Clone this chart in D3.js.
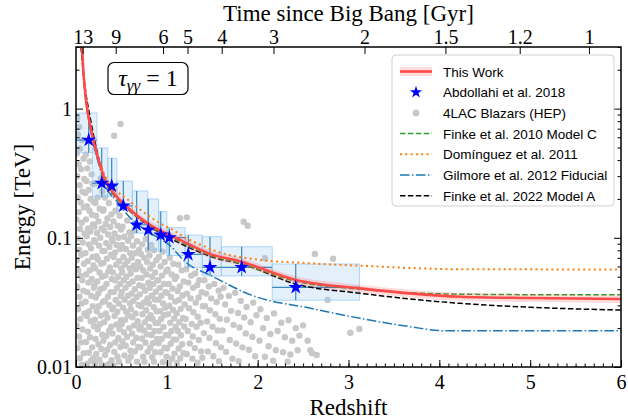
<!DOCTYPE html>
<html>
<head>
<meta charset="utf-8">
<script src="https://cdn.jsdelivr.net/npm/d3@7"></script>
<style>
  body { margin: 0; background: #fff; }
  #chart text { font-family: "Liberation Serif", "DejaVu Serif", serif; fill: #000; }
  #chart .legend text { font-family: "Liberation Sans", "DejaVu Sans", sans-serif; }
</style>
</head>
<body>
<svg id="chart" width="628" height="419"></svg>
<script>
// ---- axes ----
const redshiftTicks = [0, 1, 2, 3, 4, 5, 6];
const redshiftMinor = d3.range(0, 6.01, 0.1);
const energyTicks = [0.01, 0.1, 1];
const energyMinor = [0.02, 0.03, 0.04, 0.05, 0.06, 0.07, 0.08, 0.09,
                     0.2, 0.3, 0.4, 0.5, 0.6, 0.7, 0.8, 0.9, 2, 3];
const ageLabels = [13, 9, 6, 5, 4, 3, 2, 1.5, 1.2, 1];
const ageRedshifts = [0.073, 0.437, 0.958, 1.228, 1.604, 2.174, 3.176, 4.067, 4.885, 5.647];

// ---- tau = 1 horizons [z, E TeV] ----
const thisWorkZ  = [0.066, 0.08, 0.11, 0.15, 0.19, 0.25, 0.32, 0.45, 0.6, 0.85, 1.0, 1.15, 1.48, 1.82, 2.42, 3.13, 4.23, 5.0, 6.0];
const thisWorkE  = [3.0, 1.993, 1.17, 0.782, 0.574, 0.398, 0.281, 0.208, 0.164, 0.1215, 0.1078, 0.096, 0.0748, 0.0653, 0.0472, 0.0406, 0.035, 0.0342, 0.0336];
const thisWorkLo = [2.79, 1.853, 1.088, 0.727, 0.534, 0.370, 0.261, 0.193, 0.1525, 0.113, 0.1003, 0.0893, 0.0696, 0.0607, 0.0439, 0.0378, 0.0326, 0.0318, 0.0312];
const thisWorkHi = [3.21, 2.133, 1.252, 0.837, 0.614, 0.426, 0.301, 0.223, 0.1755, 0.130, 0.1153, 0.1027, 0.080, 0.0699, 0.0505, 0.0434, 0.0375, 0.0366, 0.036];

const finke2010 = [[0.066, 3.0], [0.08, 1.993], [0.11, 1.144], [0.15, 0.774], [0.19, 0.565], [0.25, 0.39], [0.32, 0.274],
  [0.45, 0.203], [0.6, 0.16], [0.85, 0.119], [1.15, 0.0932], [1.48, 0.073], [1.82, 0.0628], [2.42, 0.0461],
  [3.13, 0.040], [4.23, 0.0366], [5.0, 0.0363], [6.0, 0.0362]];
const dominguez2011 = [[0.066, 3.0], [0.08, 2.036], [0.11, 1.195], [0.15, 0.80], [0.19, 0.591], [0.25, 0.416], [0.32, 0.301],
  [0.45, 0.2297], [0.576, 0.1962], [0.686, 0.1692], [0.815, 0.1457], [0.925, 0.1295], [1.071, 0.1149], [1.19, 0.1015],
  [1.4, 0.0868], [1.57, 0.0776], [1.93, 0.0688], [2.576, 0.0635], [3.2, 0.0605], [4.228, 0.0571], [5.0, 0.057], [6.0, 0.0568]];
const gilmore2012 = [[0.066, 3.0], [0.08, 1.951], [0.11, 1.127], [0.15, 0.748], [0.19, 0.539], [0.25, 0.372], [0.32, 0.2565],
  [0.45, 0.192], [0.6, 0.142], [0.8, 0.111], [0.93, 0.098], [1.02, 0.089], [1.2, 0.0655], [1.51, 0.050], [1.93, 0.036],
  [2.58, 0.0285], [3.13, 0.0238], [3.68, 0.0205], [4.04, 0.0191], [6.0, 0.0191]];
const finke2022 = [[0.055, 3.0], [0.075, 2.078], [0.099, 1.477], [0.154, 0.866], [0.2, 0.591], [0.3, 0.301], [0.45, 0.203],
  [0.6, 0.16], [0.85, 0.118], [1.145, 0.0906], [1.5, 0.0711], [1.85, 0.0619], [2.42, 0.0439], [3.13, 0.0372],
  [4.23, 0.0311], [5.0, 0.029], [6.0, 0.0276]];

// ---- Abdollahi et al. 2018 ----
const abdollahiZ   = [0.14, 0.283, 0.393, 0.521, 0.668, 0.796, 0.933, 1.027, 1.236, 1.475, 1.824, 2.419];
const abdollahiE   = [0.571, 0.2645, 0.252, 0.1768, 0.1261, 0.1152, 0.1051, 0.1005, 0.0745, 0.0591, 0.0591, 0.0414];
const abdollahiZLo = [0.0, 0.18, 0.35, 0.45, 0.62, 0.79, 0.91, 1.0, 1.2, 1.39, 1.6, 2.16];
const abdollahiZHi = [0.23, 0.35, 0.45, 0.62, 0.79, 0.91, 1.0, 1.2, 1.39, 1.6, 2.16, 3.12];
const abdollahiELo = [0.4555, 0.2069, 0.2083, 0.1641, 0.1088, 0.0804, 0.0776, 0.073, 0.0591, 0.0507, 0.0507, 0.0329];
const abdollahiEHi = [0.925, 0.496, 0.4125, 0.2752, 0.2306, 0.1997, 0.1596, 0.1197, 0.1051, 0.102, 0.0853, 0.0627];

// ---- 4LAC blazars, highest-energy photon [z, E TeV] ----
const blazars = [
  [0.012, 0.84], [0.035, 0.72], [0.021, 0.63], [0.066, 0.57], [0.044, 0.49], [0.008, 0.45], [0.083, 0.41], [0.029, 0.37],
  [0.057, 0.34], [0.014, 0.3], [0.091, 0.285], [0.04, 0.255], [0.07, 0.228], [0.019, 0.205], [0.052, 0.188], [0.086, 0.172],
  [0.031, 0.158], [0.006, 0.139], [0.062, 0.131], [0.045, 0.117], [0.095, 0.108], [0.017, 0.099], [0.074, 0.092], [0.036, 0.081],
  [0.058, 0.074], [0.009, 0.067], [0.088, 0.063], [0.025, 0.056], [0.049, 0.051], [0.068, 0.047], [0.013, 0.042], [0.081, 0.039],
  [0.039, 0.035], [0.06, 0.031], [0.022, 0.028], [0.094, 0.026], [0.047, 0.0235], [0.007, 0.021], [0.071, 0.0195], [0.033, 0.0172],
  [0.056, 0.0155], [0.016, 0.014], [0.085, 0.0128], [0.042, 0.0117], [0.064, 0.0104],
  [0.108, 0.44], [0.152, 0.39], [0.126, 0.345], [0.171, 0.31], [0.114, 0.275], [0.183, 0.262], [0.139, 0.235], [0.102, 0.222],
  [0.161, 0.2], [0.194, 0.19], [0.121, 0.176], [0.147, 0.162], [0.176, 0.151], [0.109, 0.139], [0.188, 0.127], [0.133, 0.118],
  [0.157, 0.112], [0.117, 0.103], [0.199, 0.096], [0.142, 0.089], [0.165, 0.083], [0.104, 0.076], [0.181, 0.071], [0.129, 0.066],
  [0.192, 0.061], [0.151, 0.056], [0.112, 0.052], [0.173, 0.048], [0.137, 0.045], [0.196, 0.041], [0.123, 0.038], [0.168, 0.0355],
  [0.106, 0.032], [0.185, 0.0295], [0.145, 0.027], [0.119, 0.0248], [0.162, 0.0226], [0.198, 0.0207], [0.131, 0.0188], [0.154, 0.017],
  [0.111, 0.0156], [0.178, 0.0142], [0.141, 0.0129], [0.189, 0.0117], [0.125, 0.0106], [0.167, 0.0112],
  [0.273, 0.29], [0.205, 0.262], [0.291, 0.228], [0.238, 0.205], [0.214, 0.186], [0.262, 0.168], [0.297, 0.162], [0.221, 0.148],
  [0.248, 0.134], [0.203, 0.122], [0.283, 0.118], [0.231, 0.109], [0.267, 0.1], [0.209, 0.093], [0.254, 0.087], [0.292, 0.079],
  [0.226, 0.072], [0.241, 0.068], [0.277, 0.063], [0.212, 0.058], [0.259, 0.054], [0.286, 0.05], [0.234, 0.046], [0.202, 0.043],
  [0.269, 0.04], [0.245, 0.037], [0.218, 0.0345], [0.295, 0.0318], [0.251, 0.0295], [0.228, 0.027], [0.274, 0.025], [0.207, 0.0232],
  [0.263, 0.0214], [0.239, 0.0196], [0.289, 0.0178], [0.216, 0.0165], [0.247, 0.015], [0.279, 0.0138], [0.223, 0.0126], [0.256, 0.0114],
  [0.284, 0.0104], [0.211, 0.0106],
  [0.318, 0.205], [0.362, 0.186], [0.304, 0.166], [0.391, 0.152], [0.346, 0.141], [0.327, 0.128], [0.378, 0.121], [0.309, 0.114],
  [0.355, 0.106], [0.397, 0.098], [0.332, 0.091], [0.368, 0.085], [0.314, 0.079], [0.385, 0.074], [0.341, 0.069], [0.302, 0.064],
  [0.373, 0.059], [0.357, 0.055], [0.323, 0.051], [0.394, 0.048], [0.336, 0.044], [0.306, 0.041], [0.381, 0.038], [0.352, 0.035],
  [0.317, 0.0325], [0.366, 0.0302], [0.399, 0.028], [0.329, 0.026], [0.348, 0.0241], [0.311, 0.0222], [0.387, 0.0205], [0.363, 0.019],
  [0.334, 0.0174], [0.301, 0.016], [0.375, 0.0148], [0.344, 0.0136], [0.319, 0.0124], [0.392, 0.0113], [0.358, 0.0105], [0.325, 0.0102],
  [0.42, 0.617], [0.49, 0.76],
  [0.437, 0.162], [0.481, 0.148], [0.412, 0.134], [0.459, 0.124], [0.496, 0.116], [0.424, 0.108], [0.468, 0.1], [0.403, 0.094],
  [0.449, 0.088], [0.487, 0.082], [0.431, 0.077], [0.415, 0.071], [0.474, 0.066], [0.442, 0.062], [0.499, 0.058], [0.406, 0.054],
  [0.463, 0.05], [0.428, 0.047], [0.484, 0.044], [0.451, 0.041], [0.418, 0.038], [0.492, 0.0355], [0.436, 0.033], [0.471, 0.031],
  [0.409, 0.0288], [0.455, 0.0268], [0.426, 0.0248], [0.494, 0.023], [0.444, 0.0213], [0.478, 0.0197], [0.402, 0.0182], [0.466, 0.0168],
  [0.433, 0.0155], [0.489, 0.0143], [0.421, 0.0131], [0.457, 0.012], [0.474, 0.011], [0.411, 0.0103],
  [0.562, 0.136], [0.513, 0.122], [0.588, 0.11], [0.531, 0.102], [0.574, 0.095], [0.506, 0.088], [0.549, 0.082], [0.597, 0.076],
  [0.522, 0.071], [0.566, 0.066], [0.538, 0.062], [0.591, 0.058], [0.509, 0.054], [0.557, 0.05], [0.526, 0.047], [0.583, 0.044],
  [0.545, 0.041], [0.502, 0.038], [0.571, 0.0356], [0.535, 0.0332], [0.594, 0.031], [0.518, 0.0288], [0.553, 0.0268], [0.579, 0.025],
  [0.541, 0.0232], [0.504, 0.0215], [0.586, 0.02], [0.528, 0.0185], [0.563, 0.0171], [0.511, 0.0158], [0.548, 0.0146], [0.599, 0.0134],
  [0.533, 0.0123], [0.576, 0.0112],
  [0.643, 0.114], [0.608, 0.103], [0.671, 0.094], [0.627, 0.087], [0.694, 0.081], [0.652, 0.076], [0.615, 0.07], [0.683, 0.065],
  [0.636, 0.061], [0.661, 0.057], [0.602, 0.053], [0.677, 0.049], [0.624, 0.046], [0.697, 0.043], [0.648, 0.04], [0.612, 0.037],
  [0.668, 0.0348], [0.633, 0.0325], [0.689, 0.0302], [0.605, 0.028], [0.656, 0.026], [0.621, 0.0243], [0.679, 0.0226], [0.641, 0.021],
  [0.699, 0.0196], [0.618, 0.0182], [0.664, 0.0168], [0.629, 0.0155], [0.686, 0.0143], [0.647, 0.0132], [0.603, 0.012], [0.672, 0.011],
  [0.768, 0.098], [0.729, 0.089], [0.791, 0.081], [0.714, 0.075], [0.752, 0.07], [0.783, 0.065], [0.706, 0.06], [0.741, 0.056],
  [0.776, 0.052], [0.722, 0.049], [0.797, 0.045], [0.735, 0.042], [0.761, 0.039], [0.703, 0.0365], [0.787, 0.034], [0.748, 0.0316],
  [0.718, 0.0295], [0.773, 0.0275], [0.731, 0.0256], [0.794, 0.0238], [0.757, 0.0222], [0.711, 0.0206], [0.744, 0.0192], [0.779, 0.0179],
  [0.726, 0.0166], [0.765, 0.0154], [0.708, 0.0142], [0.789, 0.0131], [0.738, 0.012], [0.754, 0.011],
  [0.827, 0.088], [0.861, 0.08], [0.808, 0.073], [0.884, 0.067], [0.845, 0.062], [0.816, 0.058], [0.872, 0.054], [0.838, 0.05],
  [0.896, 0.047], [0.851, 0.044], [0.812, 0.041], [0.879, 0.0382], [0.834, 0.0356], [0.867, 0.0333], [0.803, 0.031], [0.856, 0.029],
  [0.889, 0.027], [0.821, 0.0252], [0.843, 0.0235], [0.876, 0.0219], [0.806, 0.0204], [0.864, 0.019], [0.831, 0.0177], [0.893, 0.0165],
  [0.848, 0.0153], [0.818, 0.0141], [0.871, 0.013], [0.839, 0.0119], [0.858, 0.011],
  [0.952, 0.078], [0.913, 0.071], [0.976, 0.065], [0.931, 0.06], [0.994, 0.055], [0.947, 0.051], [0.905, 0.047], [0.968, 0.044],
  [0.923, 0.041], [0.986, 0.038], [0.941, 0.0356], [0.907, 0.0332], [0.959, 0.031], [0.984, 0.0289], [0.927, 0.027], [0.971, 0.0252],
  [0.936, 0.0235], [0.902, 0.0219], [0.963, 0.0204], [0.919, 0.019], [0.989, 0.0177], [0.944, 0.0165], [0.911, 0.0153], [0.974, 0.0141],
  [0.932, 0.013], [0.997, 0.012], [0.955, 0.0109],
  [1.032, 0.07], [1.071, 0.063], [1.008, 0.057], [1.054, 0.052], [1.089, 0.048], [1.021, 0.044], [1.062, 0.0405], [1.004, 0.0375],
  [1.045, 0.0348], [1.093, 0.0322], [1.027, 0.0298], [1.068, 0.0276], [1.013, 0.0256], [1.081, 0.0238], [1.037, 0.022], [1.097, 0.0204],
  [1.051, 0.019], [1.016, 0.0176], [1.074, 0.0163], [1.041, 0.0151], [1.002, 0.0139], [1.085, 0.0127], [1.058, 0.0116], [1.026, 0.0107],
  [1.127, 0.062], [1.164, 0.056], [1.105, 0.05], [1.186, 0.046], [1.142, 0.042], [1.118, 0.0388], [1.173, 0.0358], [1.134, 0.033],
  [1.196, 0.0305], [1.152, 0.0282], [1.109, 0.026], [1.178, 0.024], [1.138, 0.0222], [1.191, 0.0206], [1.121, 0.019], [1.157, 0.0176],
  [1.102, 0.0163], [1.169, 0.015], [1.131, 0.0139], [1.184, 0.0128], [1.147, 0.0117], [1.113, 0.0107],
  [1.145, 0.1416], [1.22, 0.144], [1.846, 0.1332], [1.89, 0.124],
  [1.213, 0.057], [1.268, 0.051], [1.312, 0.053], [1.357, 0.047], [1.236, 0.045], [1.289, 0.041], [1.334, 0.043], [1.384, 0.038],
  [1.222, 0.037], [1.261, 0.034], [1.318, 0.0315], [1.351, 0.0345], [1.396, 0.0295], [1.244, 0.0285], [1.293, 0.0265], [1.341, 0.0245],
  [1.207, 0.0235], [1.274, 0.0215], [1.327, 0.0205], [1.372, 0.022], [1.231, 0.019], [1.286, 0.0172], [1.353, 0.0162], [1.252, 0.0152],
  [1.309, 0.014], [1.378, 0.0132], [1.219, 0.0126], [1.281, 0.0116], [1.338, 0.0108], [1.391, 0.0118],
  [1.414, 0.047], [1.463, 0.042], [1.522, 0.044], [1.571, 0.039], [1.432, 0.037], [1.488, 0.034], [1.548, 0.0318], [1.592, 0.035],
  [1.421, 0.0296], [1.474, 0.0275], [1.534, 0.0256], [1.583, 0.0236], [1.443, 0.0225], [1.504, 0.0205], [1.561, 0.0192], [1.408, 0.0183],
  [1.469, 0.0168], [1.541, 0.0153], [1.596, 0.0142], [1.452, 0.0132], [1.512, 0.0121], [1.574, 0.0111],
  [1.624, 0.041], [1.683, 0.0355], [1.752, 0.0375], [1.814, 0.0325], [1.878, 0.0292], [1.951, 0.0315], [1.642, 0.0305], [1.707, 0.0272],
  [1.784, 0.0262], [1.852, 0.0242], [1.923, 0.0222], [1.987, 0.0252], [1.661, 0.0232], [1.734, 0.0212], [1.801, 0.0202], [1.869, 0.0182],
  [1.942, 0.0171], [1.613, 0.0192], [1.693, 0.0162], [1.763, 0.0152], [1.832, 0.0142], [1.904, 0.0136], [1.972, 0.0121], [1.652, 0.0131],
  [1.722, 0.0116], [1.791, 0.0111],
  [2.03, 0.028], [2.1, 0.024], [2.18, 0.026], [2.26, 0.022], [2.34, 0.023], [2.42, 0.02], [2.5, 0.021], [2.06, 0.02],
  [2.14, 0.018], [2.22, 0.019], [2.3, 0.017], [2.38, 0.016], [2.46, 0.0175], [2.55, 0.016], [2.02, 0.016], [2.12, 0.0145],
  [2.2, 0.0135], [2.28, 0.013], [2.36, 0.0125], [2.44, 0.0135], [2.58, 0.0135], [2.08, 0.012], [2.17, 0.0112], [2.33, 0.011],
  [2.08, 0.0694], [2.63, 0.0749], [2.83, 0.0689], [2.77, 0.033], [3.02, 0.0184], [3.12, 0.0197], [2.6, 0.0128], [2.65, 0.0124]
];

const legendItems = [
  { label: "This Work", kind: "band" },
  { label: "Abdollahi et al. 2018", kind: "star" },
  { label: "4LAC Blazars (HEP)", kind: "dot" },
  { label: "Finke et al. 2010 Model C", kind: "line", color: "#2ca02c", dash: "5.5,2.4", width: 1.5 },
  { label: "Domínguez et al. 2011", kind: "line", color: "#ff7f0e", dash: "2,3.3", width: 2 },
  { label: "Gilmore et al. 2012 Fiducial", kind: "line", color: "#1f77b4", dash: "9.6,2.4,1.5,2.4", width: 1.5 },
  { label: "Finke et al. 2022 Model A", kind: "line", color: "#000", dash: "5.5,2.4", width: 1.5 }
];

const Chart = {
  width: 628,
  height: 419,
  margin: { top: 47, right: 7, bottom: 52, left: 76 },
  svg: null,
  plot: null,
  x: null,
  y: null,

  init() {
    this.svg = d3.select("#chart");
    const m = this.margin;
    this.x = d3.scaleLinear().domain([0, 6]).range([m.left, this.width - m.right]);
    this.y = d3.scaleLog().domain([0.01, 3]).range([this.height - m.bottom, m.top]);

    this.svg.append("clipPath").attr("id", "clip")
      .append("rect")
      .attr("x", m.left).attr("y", m.top)
      .attr("width", this.width - m.left - m.right)
      .attr("height", this.height - m.top - m.bottom);
    this.plot = this.svg.append("g").attr("clip-path", "url(#clip)");

    this.drawBlazars();
    this.drawBoxes();
    this.drawErrorBars();
    this.drawModels();
    this.drawThisWork();
    this.drawStars();
    this.drawAxes();
    this.drawAnnotation();
    this.drawLegend();
  },

  drawBlazars() {
    this.plot.append("g")
      .selectAll("circle")
      .data(blazars)
      .enter()
      .append("circle")
      .attr("cx", d => this.x(d[0]))
      .attr("cy", d => this.y(d[1]))
      .attr("r", 3.2)
      .attr("fill", "#c8c8c8");
  },

  drawBoxes() {
    this.plot.append("g")
      .selectAll("rect")
      .data(abdollahiZ.map((z, i) => i))
      .enter()
      .append("rect")
      .attr("x", i => this.x(abdollahiZLo[i]))
      .attr("y", i => this.y(abdollahiEHi[i]))
      .attr("width", i => this.x(abdollahiZHi[i]) - this.x(abdollahiZLo[i]))
      .attr("height", i => this.y(abdollahiELo[i]) - this.y(abdollahiEHi[i]))
      .attr("fill", "rgba(150,200,245,0.27)")
      .attr("stroke", "rgba(150,200,245,0.75)")
      .attr("stroke-width", 1);
  },

  drawErrorBars() {
    const g = this.plot.append("g").attr("stroke", "#3a86c0").attr("stroke-width", 1.2);
    abdollahiZ.forEach((z, i) => {
      g.append("line")
        .attr("x1", this.x(z)).attr("x2", this.x(z))
        .attr("y1", this.y(abdollahiELo[i])).attr("y2", this.y(abdollahiEHi[i]));
      g.append("line")
        .attr("x1", this.x(abdollahiZLo[i])).attr("x2", this.x(abdollahiZHi[i]))
        .attr("y1", this.y(abdollahiE[i])).attr("y2", this.y(abdollahiE[i]));
    });
  },

  drawModels() {
    const line = d3.line()
      .x(d => this.x(d[0]))
      .y(d => this.y(d[1]))
      .curve(d3.curveMonotoneX);
    const models = [
      { data: gilmore2012, style: legendItems[5] },
      { data: dominguez2011, style: legendItems[4] },
      { data: finke2022, style: legendItems[6] },
      { data: finke2010, style: legendItems[3] }
    ];
    models.forEach(m => {
      this.plot.append("path")
        .attr("d", line(m.data))
        .attr("fill", "none")
        .attr("stroke", m.style.color)
        .attr("stroke-width", m.style.width)
        .attr("stroke-dasharray", m.style.dash);
    });
  },

  drawThisWork() {
    const idx = thisWorkZ.map((z, i) => i);
    const area = d3.area()
      .x(i => this.x(thisWorkZ[i]))
      .y0(i => this.y(thisWorkLo[i]))
      .y1(i => this.y(thisWorkHi[i]))
      .curve(d3.curveMonotoneX);
    const line = d3.line()
      .x(i => this.x(thisWorkZ[i]))
      .y(i => this.y(thisWorkE[i]))
      .curve(d3.curveMonotoneX);
    this.plot.append("path").attr("d", area(idx))
      .attr("fill", "rgba(255,80,80,0.2)");
    this.plot.append("path").attr("d", line(idx))
      .attr("fill", "none")
      .attr("stroke", "#ff4a4a")
      .attr("stroke-width", 2.6);
  },

  drawStars() {
    const star = d3.symbol().type(d3.symbolStar).size(68);
    this.plot.append("g")
      .selectAll("path")
      .data(abdollahiZ.map((z, i) => i))
      .enter()
      .append("path")
      .attr("d", star)
      .attr("transform", i => `translate(${this.x(abdollahiZ[i])},${this.y(abdollahiE[i])})`)
      .attr("fill", "#0000ff");
  },

  drawAxes() {
    const m = this.margin;
    const bottom = this.height - m.bottom;
    const right = this.width - m.right;
    const fmtE = d => (d >= 1 ? d3.format("d")(d) : String(d));

    const xAxis = this.svg.append("g").attr("transform", `translate(0,${bottom})`)
      .call(d3.axisBottom(this.x).tickValues(redshiftTicks).tickFormat(d3.format("d"))
        .tickSize(-7).tickPadding(8));
    this.svg.append("g").attr("transform", `translate(0,${bottom})`)
      .call(d3.axisBottom(this.x).tickValues(redshiftMinor).tickFormat("").tickSize(-3.5));

    const yAxis = this.svg.append("g").attr("transform", `translate(${m.left},0)`)
      .call(d3.axisLeft(this.y).tickValues(energyTicks).tickFormat(fmtE)
        .tickSize(-7).tickPadding(4));
    this.svg.append("g").attr("transform", `translate(${m.left},0)`)
      .call(d3.axisLeft(this.y).tickValues(energyMinor).tickFormat("").tickSize(-3.5));

    this.svg.append("g").attr("transform", `translate(${right},0)`)
      .call(d3.axisLeft(this.y).tickValues(energyTicks).tickFormat("").tickSize(7));
    this.svg.append("g").attr("transform", `translate(${right},0)`)
      .call(d3.axisLeft(this.y).tickValues(energyMinor).tickFormat("").tickSize(3.5));

    const topAxis = this.svg.append("g").attr("transform", `translate(0,${m.top})`)
      .call(d3.axisTop(this.x).tickValues(ageRedshifts)
        .tickFormat((d, i) => ageLabels[i]).tickSize(-7).tickPadding(3));

    this.svg.selectAll(".domain").remove();
    this.svg.selectAll(".tick line").attr("stroke", "#000").attr("stroke-width", 1);
    [xAxis, yAxis, topAxis].forEach(a => a.selectAll("text").attr("font-size", 20));

    this.svg.append("rect")
      .attr("x", m.left).attr("y", m.top)
      .attr("width", right - m.left).attr("height", bottom - m.top)
      .attr("fill", "none").attr("stroke", "#000").attr("stroke-width", 1.5);

    this.svg.append("text")
      .attr("x", (m.left + right) / 2).attr("y", 415)
      .attr("text-anchor", "middle").attr("font-size", 23)
      .text("Redshift");
    this.svg.append("text")
      .attr("x", (m.left + right) / 2).attr("y", 21)
      .attr("text-anchor", "middle").attr("font-size", 23)
      .text("Time since Big Bang [Gyr]");
    this.svg.append("text")
      .attr("transform", `translate(30,${(m.top + bottom) / 2}) rotate(-90)`)
      .attr("text-anchor", "middle").attr("font-size", 23)
      .text("Energy [TeV]");
  },

  drawAnnotation() {
    const g = this.svg.append("g");
    g.append("rect")
      .attr("x", 108).attr("y", 62.5).attr("width", 80).attr("height", 32).attr("rx", 6)
      .attr("fill", "#fff").attr("stroke", "#000").attr("stroke-width", 1.2);
    const t = g.append("text").attr("x", 148).attr("y", 86).attr("text-anchor", "middle").attr("font-size", 24);
    t.append("tspan").attr("font-style", "italic").text("τ");
    t.append("tspan").attr("font-style", "italic").attr("font-size", 17).attr("dy", 5).text("γγ");
    t.append("tspan").attr("dy", -5).text(" = 1");
  },

  drawLegend() {
    const g = this.svg.append("g").attr("class", "legend");
    g.append("rect")
      .attr("x", 392).attr("y", 55).attr("width", 222).attr("height", 151).attr("rx", 4)
      .attr("fill", "rgba(255,255,255,0.85)").attr("stroke", "#d0d0d0").attr("stroke-width", 1);
    const star = d3.symbol().type(d3.symbolStar).size(48);
    legendItems.forEach((item, i) => {
      const cy = 71.5 + i * 20.7;
      const row = g.append("g");
      if (item.kind === "band") {
        row.append("rect").attr("x", 400).attr("y", cy - 4.5).attr("width", 32).attr("height", 9)
          .attr("fill", "rgba(255,80,80,0.2)");
        row.append("line").attr("x1", 400).attr("x2", 432).attr("y1", cy).attr("y2", cy)
          .attr("stroke", "#ff4a4a").attr("stroke-width", 2.6);
      } else if (item.kind === "star") {
        row.append("path").attr("d", star).attr("transform", `translate(416,${cy})`).attr("fill", "#0000ff");
      } else if (item.kind === "dot") {
        row.append("circle").attr("cx", 416).attr("cy", cy).attr("r", 3.5).attr("fill", "#c8c8c8");
      } else {
        row.append("line").attr("x1", 400).attr("x2", 432).attr("y1", cy).attr("y2", cy)
          .attr("stroke", item.color).attr("stroke-width", item.width)
          .attr("stroke-dasharray", item.dash);
      }
      row.append("text").attr("x", 443).attr("y", cy + 5).attr("font-size", 13.5).text(item.label);
    });
  }
};

Chart.init();
</script>
</body>
</html>
